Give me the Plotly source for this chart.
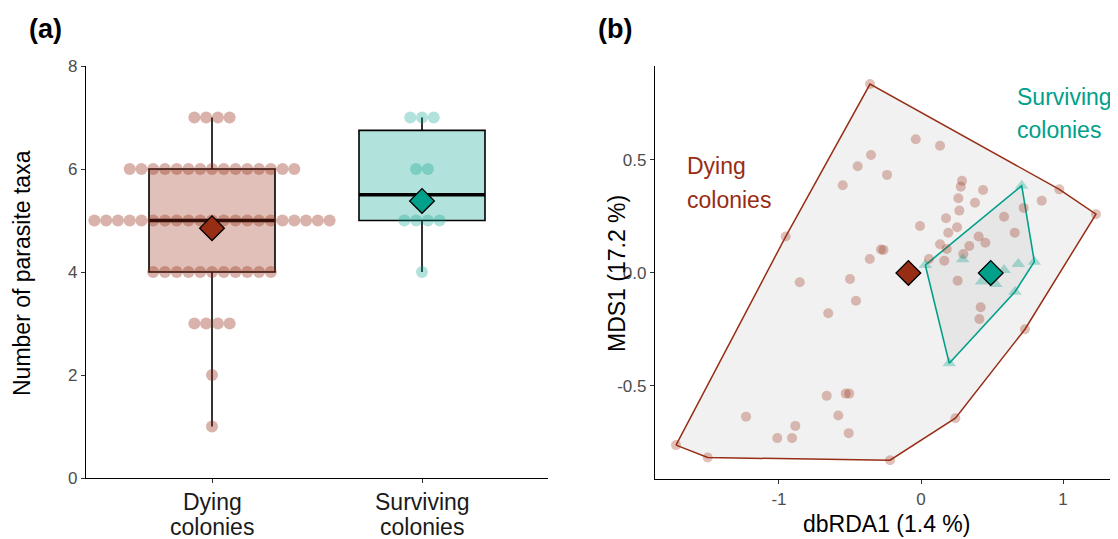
import plotly.graph_objects as go

DYING = "#972D15"
SURV = "#00A08A"
FONT = "Liberation Sans, Arial, sans-serif"

# ---------------- Panel (a) data ----------------
taxa_levels = [1, 2, 3, 4, 5, 6, 7]
dying_counts = [1, 1, 4, 11, 21, 15, 4]
surviving_counts = [0, 0, 0, 1, 4, 2, 3]
group_labels = ["Dying<br>colonies", "Surviving<br>colonies"]
group_pos = [1, 2]
box_q1 = [4, 5]
box_median = [5, 5.5]
box_q3 = [6, 6.75]
box_low = [1, 4]
box_high = [7, 7]
group_means = [4.85, 5.38]

# ---------------- Panel (b) data ----------------
dying_x = [-0.359, -0.352, -0.446, -0.239, -0.551, -0.953, -0.282, -0.264, -0.361, -0.854,
           -0.500, -0.458, -0.653, -0.037, 0.134, 0.289, 0.280, 0.437, 0.263, 0.380,
           0.723, 0.850, 0.974, 1.232, 0.270, 0.176, 0.585, -0.007, 0.254, 0.192,
           0.660, 0.406, 0.453, 0.340, 0.134, 0.181, 0.298, 0.164, 0.056, 0.258,
           0.420, 0.411, 0.732, -0.664, -0.530, -0.505, -1.232, -0.582, -0.885, -1.012,
           -0.908, -0.509, -1.725, -1.502, -0.218, 0.242]
dying_y = [0.836, 0.522, 0.472, 0.434, 0.388, 0.161, 0.104, 0.102, 0.062, -0.041,
           -0.027, -0.123, -0.178, 0.592, 0.563, 0.408, 0.382, 0.367, 0.331, 0.311,
           0.288, 0.320, 0.370, 0.260, 0.276, 0.242, 0.249, 0.208, 0.202, 0.178,
           0.178, 0.161, 0.134, 0.119, 0.127, 0.106, 0.084, 0.054, 0.062, -0.034,
           -0.152, -0.204, -0.249, -0.544, -0.534, -0.534, -0.636, -0.631, -0.677, -0.731,
           -0.731, -0.709, -0.762, -0.817, -0.829, -0.643]
surv_x = [0.709, 0.030, 0.798, 0.199, 0.294, 0.685, 0.585, 0.427, 0.526, 0.662]
surv_y = [0.386, 0.035, 0.050, -0.400, 0.061, 0.040, 0.013, -0.038, -0.049, -0.083]
centroid_x = [-0.089, 0.491]
centroid_y = [0.0, 0.0]
group_names_b = ["Dying<br>colonies", "Surviving<br>colonies"]


def convex_hull(xs, ys):
    pts = sorted(set(zip(xs, ys)))

    def cross(o, a, b):
        return (a[0] - o[0]) * (b[1] - o[1]) - (a[1] - o[1]) * (b[0] - o[0])

    lower, upper = [], []
    for p in pts:
        while len(lower) >= 2 and cross(lower[-2], lower[-1], p) <= 0:
            lower.pop()
        lower.append(p)
    for p in reversed(pts):
        while len(upper) >= 2 and cross(upper[-2], upper[-1], p) <= 0:
            upper.pop()
        upper.append(p)
    h = lower[:-1] + upper[:-1]
    h.append(h[0])
    return [p[0] for p in h], [p[1] for p in h]


def stack_dots(center, levels, counts, step):
    xs, ys = [], []
    for lv, n in zip(levels, counts):
        for i in range(n):
            xs.append(center + (i - (n - 1) / 2) * step)
            ys.append(lv)
    return xs, ys


fig = go.Figure()

colors = [DYING, SURV]
fills = ["rgba(151,45,21,0.3)", "rgba(0,160,138,0.3)"]
dot_cols = ["rgba(151,45,21,0.36)", "rgba(0,160,138,0.3)"]
counts_all = [dying_counts, surviving_counts]
box_w = 0.6
dot_step = 0.056

for i in range(2):
    fig.add_trace(go.Box(
        x=[group_pos[i]], q1=[box_q1[i]], median=[box_median[i]], q3=[box_q3[i]],
        lowerfence=[box_low[i]], upperfence=[box_high[i]],
        width=box_w, fillcolor=fills[i], line=dict(color="black", width=1.6),
        whiskerwidth=0, boxpoints=False, showlegend=False, hoverinfo="skip",
        xaxis="x", yaxis="y"))

for i in range(2):
    fig.add_trace(go.Scatter(
        x=[group_pos[i] - box_w / 2, group_pos[i] + box_w / 2],
        y=[box_median[i], box_median[i]], mode="lines",
        line=dict(color="black", width=3.6), showlegend=False, hoverinfo="skip",
        xaxis="x", yaxis="y"))

for i in range(2):
    dx, dy = stack_dots(group_pos[i], taxa_levels, counts_all[i], dot_step)
    fig.add_trace(go.Scatter(
        x=dx, y=dy, mode="markers",
        marker=dict(size=12, color=dot_cols[i], line=dict(width=0)),
        showlegend=False, hoverinfo="skip", xaxis="x", yaxis="y"))

fig.add_trace(go.Scatter(
    x=group_pos, y=group_means, mode="markers",
    marker=dict(symbol="diamond", size=19, color=colors,
                line=dict(color="black", width=1.3)),
    showlegend=False, hoverinfo="skip", xaxis="x", yaxis="y"))

# ---------------- Panel (b) ----------------
hx, hy = convex_hull(dying_x, dying_y)
fig.add_trace(go.Scatter(
    x=hx, y=hy, mode="lines", fill="toself", fillcolor="rgba(190,190,190,0.22)",
    line=dict(color=DYING, width=1.5), showlegend=False, hoverinfo="skip",
    xaxis="x2", yaxis="y2"))
sx, sy = convex_hull(surv_x, surv_y)
fig.add_trace(go.Scatter(
    x=sx, y=sy, mode="lines", fill="toself", fillcolor="rgba(190,190,190,0.22)",
    line=dict(color=SURV, width=1.6), showlegend=False, hoverinfo="skip",
    xaxis="x2", yaxis="y2"))

fig.add_trace(go.Scatter(
    x=dying_x, y=dying_y, mode="markers",
    marker=dict(size=10, color="rgba(151,45,21,0.3)", line=dict(width=0)),
    showlegend=False, hoverinfo="skip", xaxis="x2", yaxis="y2"))
fig.add_trace(go.Scatter(
    x=surv_x, y=surv_y, mode="markers",
    marker=dict(symbol="triangle-up", size=12, color="rgba(0,160,138,0.3)", line=dict(width=0)),
    showlegend=False, hoverinfo="skip", xaxis="x2", yaxis="y2"))
fig.add_trace(go.Scatter(
    x=centroid_x, y=centroid_y, mode="markers",
    marker=dict(symbol="diamond", size=19, color=colors,
                line=dict(color="black", width=1.3)),
    showlegend=False, hoverinfo="skip", xaxis="x2", yaxis="y2"))

# page is offset by the default 8px body margin
OFF = 8
W, H = 1118 - OFF, 539 - OFF


def px_x(p):
    return (p - OFF) / W


def px_y(p):
    return 1 - (p - OFF) / H


axis_common = dict(showline=True, linecolor="black", linewidth=1.3, ticks="outside",
                   ticklen=4, tickwidth=1.1, tickcolor="#333333", showgrid=False,
                   zeroline=False, automargin=False)

fig.update_layout(
    width=W, height=H, autosize=False,
    margin=dict(l=0, r=0, t=0, b=0, pad=0),
    paper_bgcolor="white", plot_bgcolor="white",
    font=dict(family=FONT, color="black"),
    showlegend=False,
    xaxis=dict(domain=[px_x(86), px_x(548)], range=[0.4, 2.6], tickvals=group_pos,
               showticklabels=False, anchor="y", **axis_common),
    yaxis=dict(domain=[px_y(478), px_y(66)], range=[0, 8], tickvals=[0, 2, 4, 6, 8],
               tickfont=dict(size=17, color="#4D4D4D"), anchor="x", **axis_common),
    xaxis2=dict(domain=[px_x(655), px_x(1117)], range=[-1.873, 1.380], tickvals=[-1, 0, 1],
                ticktext=["-1", "0", "1"], tickfont=dict(size=17, color="#4D4D4D"),
                anchor="y2", **axis_common),
    yaxis2=dict(domain=[px_y(479), px_y(66)], range=[-0.912, 0.916],
                tickvals=[-0.5, 0, 0.5], ticktext=["-0.5", "0.0", "0.5"],
                tickfont=dict(size=17, color="#4D4D4D"), anchor="x2", **axis_common),
)

ann = []
ann.append(dict(text="<b>(a)</b>", x=px_x(45), y=px_y(29), xref="paper", yref="paper",
                showarrow=False, font=dict(size=27, color="black"), xanchor="center", yanchor="middle"))
ann.append(dict(text="<b>(b)</b>", x=px_x(615), y=px_y(29), xref="paper", yref="paper",
                showarrow=False, font=dict(size=27, color="black"), xanchor="center", yanchor="middle"))
ann.append(dict(text="Number of parasite taxa", x=px_x(22), y=px_y(273), xref="paper", yref="paper",
                showarrow=False, textangle=-90, font=dict(size=23, color="black"),
                xanchor="center", yanchor="middle"))
ann.append(dict(text="MDS1 (17.2 %)", x=px_x(617), y=px_y(273), xref="paper", yref="paper",
                showarrow=False, textangle=-90, font=dict(size=23, color="black"),
                xanchor="center", yanchor="middle"))
ann.append(dict(text="dbRDA1 (1.4 %)", x=px_x(886), y=px_y(524), xref="paper", yref="paper",
                showarrow=False, font=dict(size=23, color="black"),
                xanchor="center", yanchor="middle"))

# category labels of panel (a), one line each (tight line spacing as in the reference)
line_y_a = [502, 527]
for gp, lab in zip(group_pos, group_labels):
    for ly, part in zip(line_y_a, lab.split("<br>")):
        ann.append(dict(text=part, x=gp, y=px_y(ly), xref="x", yref="paper",
                        showarrow=False, font=dict(size=23, color="#1a1a1a"),
                        xanchor="center", yanchor="middle"))

# group labels of panel (b)
label_pos_b = [(-1.662, 0.473, 0.321), (0.662, 0.779, 0.633)]
for (lx, y1, y2), lab, col in zip(label_pos_b, group_names_b, colors):
    for ly, part in zip([y1, y2], lab.split("<br>")):
        ann.append(dict(text=part, x=lx, y=ly, xref="x2", yref="y2",
                        showarrow=False, font=dict(size=23, color=col),
                        xanchor="left", yanchor="middle"))

fig.update_layout(annotations=ann)

fig.write_html("out.html")
